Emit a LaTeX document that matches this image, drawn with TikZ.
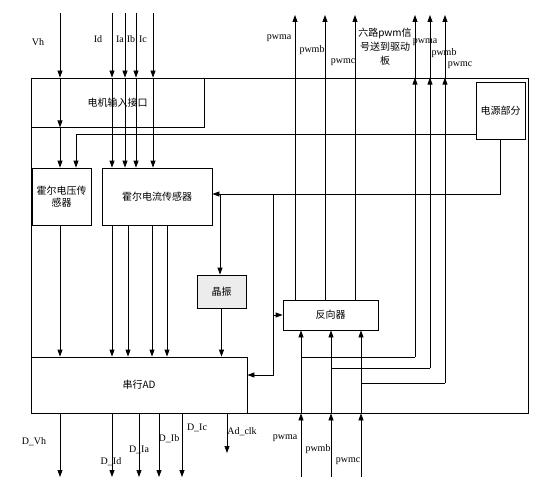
\documentclass[tikz,border=0pt]{standalone}
\usepackage{fontspec}
\setmainfont{Liberation Serif}
\newfontfamily\cjk{Noto Sans CJK SC}
\usetikzlibrary{arrows.meta}
\begin{document}
\begin{tikzpicture}[x=1pt,y=-1pt,
  box/.style={draw,line width=0.8pt,inner sep=0pt,align=center,font=\cjk\fontsize{10}{12}\selectfont},
  ln/.style={line width=0.8pt},
  arr/.style={line width=0.8pt,-{Triangle[length=7pt,width=5pt]}},
  lbl/.style={inner sep=0pt,font=\fontsize{10}{12}\selectfont}]
\useasboundingbox (0,0) rectangle (543,492);
% boxes
\node[box,minimum width=497pt,minimum height=335pt] (outer) at (279.5,245.5) {};
\node[box,minimum width=173pt,minimum height=49pt] (inp) at (117.5,102.5) {电机输入接口};
\node[box,minimum width=59pt,minimum height=57pt] (hv) at (61.5,196.5) {霍尔电压传\\感器};
\node[box,minimum width=110pt,minimum height=57pt] (hc) at (157,196.5) {霍尔电流传感器};
\node[box,minimum width=49pt,minimum height=57pt] (pw) at (500.5,110.5) {电源部分};
\node[box,minimum width=49pt,minimum height=33pt,fill=gray!15] (xt) at (221.5,291.5) {晶振};
\node[box,minimum width=216pt,minimum height=56pt] (ad) at (139,385) {串行AD};
\node[box,minimum width=95pt,minimum height=30pt] (inv) at (330.5,315) {反向器};
% column coordinates
\coordinate (cVh) at (60,13);
\coordinate (cId) at (112,13);
\coordinate (cIa) at (125,13);
\coordinate (cIb) at (136,13);
\coordinate (cIc) at (153,13);
\coordinate (cHa) at (112,0);
\coordinate (cHb) at (128,0);
\coordinate (cHc) at (152,0);
\coordinate (cHd) at (167,0);
% inputs Vh
\draw[arr] (cVh) -- (cVh |- outer.north);
\draw[arr] (cVh |- outer.north) -- (cVh |- inp.south);
\draw[arr] (cVh |- inp.south) -- (cVh |- hv.north);
% inputs currents
\foreach \c in {cId,cIa,cIb,cIc}{
  \draw[arr] (\c) -- (\c |- outer.north);
  \draw[arr] (\c |- outer.north) -- (\c |- hc.north);
}
% power lines
\coordinate (pv1) at (76,134);
\draw[arr] (pw.west |- pv1) -- (pv1) -- (pv1 |- hv.north);
\coordinate (pj) at (500.5,194);
\draw[arr] (pw.south) -- (pj) -- (pj -| hc.east);
\coordinate (jx) at (220,194);
\draw[arr] (jx) -- (jx |- xt.north);
\coordinate (j2) at (273,194);
\coordinate (j3) at (273,375);
\draw[arr] (j2) -- (j3) -- (j3 -| ad.east);
\coordinate (j4) at (273,315);
\draw[arr] (j4) -- (inv.west);
% crystal to AD
\draw[arr] (xt.south) -- (xt.south |- ad.north);
% sensors to AD
\draw[arr] (cVh |- hv.south) -- (cVh |- ad.north);
\foreach \c in {cHa,cHb,cHc,cHd}{
  \draw[arr] (\c |- hc.south) -- (\c |- ad.north);
}
% AD outputs
\coordinate (oVh) at (60,477);
\coordinate (oId) at (112,477);
\coordinate (oIa) at (139,477);
\coordinate (oIb) at (159,477);
\coordinate (oIc) at (182,477);
\coordinate (oCk) at (227,453);
\foreach \c in {oVh,oId,oIa,oIb,oIc,oCk}{
  \draw[arr] (\c |- ad.south) -- (\c);
}
% pwm bottom inputs
\coordinate (b1) at (301,477);
\coordinate (b2) at (331,477);
\coordinate (b3) at (361,477);
\foreach \c in {b1,b2,b3}{
  \draw[arr] (\c) -- (\c |- outer.south);
  \draw[arr] (\c |- outer.south) -- (\c |- inv.south);
}
% right pwm outputs
\coordinate (r1) at (415,357);
\coordinate (r2) at (430,368);
\coordinate (r3) at (445,383);
\coordinate (t1) at (415,15);
\coordinate (t2) at (430,15);
\coordinate (t3) at (445,15);
\draw[ln] (r1) -- (r1 -| b1);
\draw[ln] (r2) -- (r2 -| b2);
\draw[ln] (r3) -- (r3 -| b3);
\draw[arr] (r1) -- (r1 |- outer.north);
\draw[arr] (r1 |- outer.north) -- (t1);
\draw[arr] (r2) -- (r2 |- outer.north);
\draw[arr] (r2 |- outer.north) -- (t2);
\draw[arr] (r3) -- (r3 |- outer.north);
\draw[arr] (r3 |- outer.north) -- (t3);
% left pwm outputs from inverter
\coordinate (u1) at (295,15);
\coordinate (u2) at (325,15);
\coordinate (u3) at (355,15);
\foreach \c in {u1,u2,u3}{
  \draw[arr] (\c |- inv.north) -- (\c);
}
% labels
\node[lbl] (lVh) at (38,42) {Vh};
\node[lbl] (lId) at (98,39) {Id};
\node[lbl] (lIa) at (120,39) {Ia};
\node[lbl] (lIb) at (131,39) {Ib};
\node[lbl] (lIc) at (143,39) {Ic};
\node[lbl] (lpa1) at (279,38) {pwma};
\node[lbl] (lpb1) at (312,50) {pwmb};
\node[lbl] (lpc1) at (343,62) {pwmc};
\node[lbl,align=center,font=\cjk\fontsize{10}{14}\selectfont] (lsix) at (385,47) {六路pwm信\\号送到驱动\\板};
\node[lbl] (lpa2) at (425,42) {pwma};
\node[lbl] (lpb2) at (444,53) {pwmb};
\node[lbl] (lpc2) at (460,65) {pwmc};
\node[lbl] (lpa3) at (285,438) {pwma};
\node[lbl] (lpb3) at (318,449) {pwmb};
\node[lbl] (lpc3) at (348,461) {pwmc};
\node[lbl] (lDVh) at (34,442) {D\_Vh};
\node[lbl] (lDId) at (111,462) {D\_Id};
\node[lbl] (lDIa) at (139,450) {D\_Ia};
\node[lbl] (lDIb) at (169,439) {D\_Ib};
\node[lbl] (lDIc) at (197,428) {D\_Ic};
\node[lbl] (lclk) at (242,432) {Ad\_clk};
\end{tikzpicture}
\end{document}
